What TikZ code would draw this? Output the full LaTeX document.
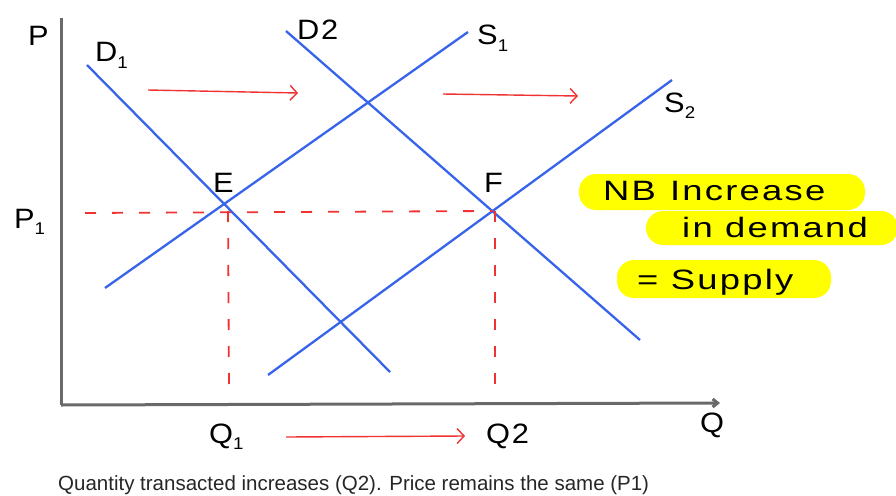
\documentclass[tikz,border=0pt]{standalone}
\usepackage{fontspec}
\setmainfont{Liberation Sans}
\newfontfamily\handfont[LetterSpace=6,FakeStretch=1.1]{Liberation Sans}
\newfontfamily\notefont[LetterSpace=8,FakeStretch=1.3]{Liberation Sans}
\usetikzlibrary{arrows.meta}
\definecolor{curveblue}{RGB}{55,100,235}
\definecolor{shiftred}{RGB}{240,50,50}
\definecolor{axisgray}{RGB}{105,105,105}
\definecolor{hiyellow}{RGB}{255,255,0}
\newcommand{\lowsub}[1]{\raisebox{-0.45ex}{\fontsize{17}{17}\selectfont #1}}
\tikzset{
  curve/.style={draw=curveblue, line width=2.3pt},
  axisline/.style={draw=axisgray, line width=3pt},
  guide/.style={draw=shiftred, line width=1.8pt, dash pattern=on 11pt off 16pt},
  shiftarrow/.style={draw=shiftred, line width=1.4pt, -{Straight Barb[length=7pt,width=15pt]}},
  hand/.style={font=\handfont\fontsize{28}{30}\selectfont, inner sep=0pt},
  hlbox/.style={fill=hiyellow, rounded corners=17pt, inner sep=0pt},
  note/.style={font=\notefont\fontsize{28}{30}\selectfont, inner sep=0pt}
}
\begin{document}
\begin{tikzpicture}[x=1pt,y=-1pt]
\useasboundingbox (0,0) rectangle (896,495);
% highlighted note backgrounds
\node[hlbox, minimum width=286pt, minimum height=36pt] (hb1) at (722,192) {};
\node[hlbox, minimum width=252pt, minimum height=34pt] (hb2) at (772,228) {};
\node[hlbox, minimum width=214pt, minimum height=38pt] (hb3) at (724,279) {};
% axes
\coordinate (ytop) at (61,18);
\coordinate (origin) at (61,405);
\coordinate (xend) at (720,403);
\draw[axisline] (ytop) -- (origin);
\draw[axisline, -{Straight Barb[length=5pt,width=8pt]}] (origin) -- (xend);
% curves
\coordinate (d1a) at (87,65);  \coordinate (d1b) at (390,372);
\coordinate (d2a) at (286,31); \coordinate (d2b) at (640,340);
\coordinate (s1a) at (105,288); \coordinate (s1b) at (468,32);
\coordinate (s2a) at (268,375); \coordinate (s2b) at (672,80);
\draw[curve] (d1a) -- (d1b);
\draw[curve] (d2a) -- (d2b);
\draw[curve] (s1a) -- (s1b);
\draw[curve] (s2a) -- (s2b);
% guides
\coordinate (pstart) at (85,213);
\coordinate (E) at (224,211);
\coordinate (F) at (493,211);
\coordinate (q1) at (229,390);
\coordinate (q2) at (495,390);
\draw[guide] (pstart) -- (F);
\draw[guide] (E) ++(4,0) -- (q1);
\draw[guide] (F) ++(2,0) -- (q2);
% shift arrows
\coordinate (a1s) at (148,90);  \coordinate (a1e) at (298,93);
\coordinate (a2s) at (443,94);  \coordinate (a2e) at (578,96);
\coordinate (a3s) at (286,437); \coordinate (a3e) at (465,436);
\draw[shiftarrow] (a1s) -- (a1e);
\draw[shiftarrow] (a2s) -- (a2e);
\draw[shiftarrow] (a3s) -- (a3e);
% labels
\node[hand, anchor=base west] (lP) at (28,46) {P};
\node[hand, anchor=base west] (lP1) at (14,228) {P\lowsub{1}};
\node[hand, anchor=base west] (lD1) at (95,62) {D\lowsub{1}};
\node[hand, anchor=base west] (lD2) at (297,40) {D2};
\node[hand, anchor=base west] (lS1) at (477,45) {S\lowsub{1}};
\node[hand, anchor=base west] (lS2) at (664,112) {S\lowsub{2}};
\node[hand, anchor=base west] (lE) at (213,192) {E};
\node[hand, anchor=base west] (lF) at (484,192) {F};
\node[hand, anchor=base west] (lQ1) at (209,443) {Q\lowsub{1}};
\node[hand, anchor=base west] (lQ2) at (486,443) {Q2};
\node[hand, anchor=base west] (lQ) at (700,432) {Q};
% note text
\node[note, anchor=base west] (nb1) at (603,200) {NB\hspace{14pt}Increase};
\node[note, anchor=base west] (nb2) at (682,237) {in demand};
\node[note, anchor=base west] (nb3) at (637,289) {= Supply};
% caption
\node[anchor=base west, inner sep=0pt, font=\fontsize{20.5}{22}\selectfont, text=black!85] (cap) at (58,490)
  {Quantity transacted increases (Q2). Price remains the same (P1)};
\end{tikzpicture}
\end{document}
